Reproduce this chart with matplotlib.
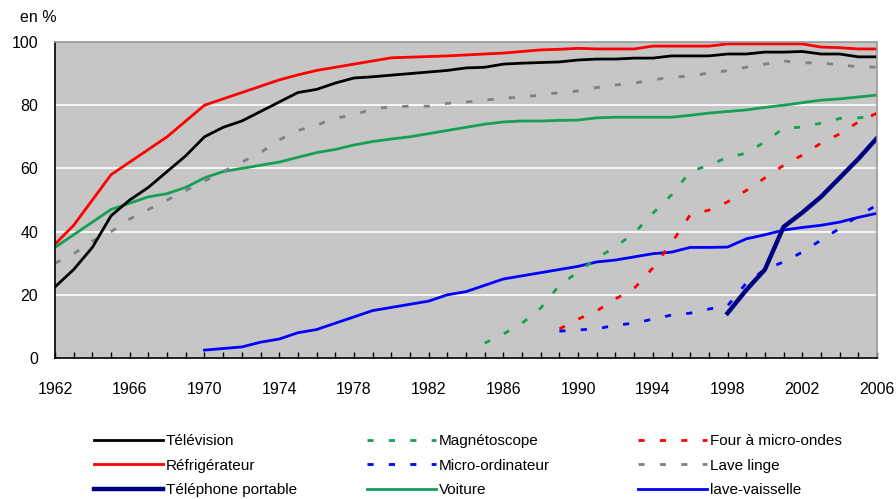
import numpy as np
import matplotlib.pyplot as plt
from matplotlib.lines import Line2D

plt.rcParams['font.family'] = ['Liberation Sans', 'DejaVu Sans']

# Years for each series
years_full = list(range(1962, 2007))
tele = [22.5, 28, 35, 45, 50, 54, 59, 64, 70, 73, 75, 78, 81, 84, 85, 87, 88.6, 89, 89.5,
        90, 90.5, 91, 91.8, 92, 93, 93.3, 93.5, 93.7, 94.3, 94.6, 94.6, 94.9, 94.9, 95.6, 95.6,
        95.6, 96.2, 96.2, 96.8, 96.8, 97, 96.2, 96.2, 95.3, 95.3]
refrig = [36, 42, 50, 58, 62, 66, 70, 75, 80, 82, 84, 86, 88, 89.6, 91, 92, 93, 94, 95,
          95.2, 95.4, 95.6, 95.9, 96.2, 96.5, 97, 97.5, 97.7, 98, 97.8, 97.8, 97.8, 98.7, 98.7,
          98.7, 98.7, 99.4, 99.4, 99.4, 99.4, 99.4, 98.4, 98.2, 97.8, 97.8]
lave_linge = [30, 33, 37, 40, 44, 47, 50, 53, 56, 59, 62, 65, 69, 72, 73.7, 75.9, 76.9, 78.8,
              79.5, 79.7, 79.7, 80.6, 81, 81.6, 82.2, 82.6, 83.2, 84, 84.5, 85.6, 86.4, 87, 88,
              88.9, 89.2, 90.2, 90.9, 92, 93, 94, 93.4, 93.4, 92.7, 92.2, 92]
voiture = [35, 39, 43, 47, 49, 51, 52, 54, 57, 59, 60, 61, 62, 63.5, 65, 66, 67.4, 68.5, 69.3,
           70, 71, 72, 73, 74, 74.7, 75, 75, 75.2, 75.3, 76, 76.2, 76.2, 76.2, 76.2, 76.8, 77.5,
           78, 78.5, 79.3, 80, 80.8, 81.6, 82, 82.6, 83.2]

years_lv = list(range(1970, 2007))
lave_vaisselle = [2.5, 3, 3.5, 5, 6, 8, 9, 11, 13, 15, 16, 17, 18, 20, 21, 23, 25, 26, 27,
                  28, 29, 30.4, 31, 32, 33, 33.5, 35, 35, 35.1, 37.7, 39, 40.5, 41.3, 42, 43,
                  44.5, 45.8]

years_mag = list(range(1985, 2007))
magneto = [4.7, 7.6, 11, 15.8, 23, 27.2, 31.6, 35.2, 39.5, 45.8, 51.6, 59, 61, 63.5, 64.8,
           68.4, 72.7, 73.1, 74.3, 75.8, 76, 76.5]

years_89 = list(range(1989, 2007))
four = [9.2, 12.3, 14.9, 18.7, 22, 28.5, 36.4, 45.3, 46.8, 49.4, 53, 57, 61, 64.2, 68, 70.9,
        74.7, 77.5]
micro = [8.5, 8.9, 9.2, 10.4, 11, 12.3, 13.6, 14.2, 15.5, 16.5, 23.7, 28, 30.4, 33.5, 37.3,
         41, 45, 48.4]

years_tel = list(range(1998, 2007))
telephone = [14.2, 21.5, 28, 41.5, 46, 51, 57, 63, 69.6]

green = '#17A055'
navy = '#000080'
gray_dash = '#7F7F8F'
dot = (0, (2.2, 5.5))

fig = plt.figure(figsize=(8.96, 4.99), dpi=100)
ax = fig.add_axes([55 / 896, 1 - 358 / 499, (877 - 55) / 896, (358 - 42) / 499])
ax.set_facecolor('#C6C6C6')

ax.plot(years_full, voiture, color=green, lw=2, label='Voiture')
ax.plot(years_full, lave_linge, color=gray_dash, lw=2, linestyle=dot, label='Lave linge')
ax.plot(years_lv, lave_vaisselle, color='#0000FF', lw=2, label='lave-vaisselle')
ax.plot(years_mag, magneto, color=green, lw=2, linestyle=dot, label='Magnétoscope')
ax.plot(years_89, four, color='#FF0000', lw=2, linestyle=dot, label='Four à micro-ondes')
ax.plot(years_89, micro, color='#0000FF', lw=2, linestyle=dot, label='Micro-ordinateur')
ax.plot(years_full, tele, color='black', lw=2, label='Télévision')
ax.plot(years_full, refrig, color='#FF0000', lw=2, label='Réfrigérateur')
ax.plot(years_tel, telephone, color=navy, lw=3.2, label='Téléphone portable')

ax.set_xlim(1962, 2006)
ax.set_ylim(0, 100)
ax.set_yticks(range(0, 101, 20))
ax.set_xticks(range(1962, 2007, 4))
ax.set_xticks(range(1962, 2007), minor=True)
for y in range(20, 100, 20):
    ax.axhline(y, color='white', lw=1.2, zorder=0.5)

ax.tick_params(axis='x', which='both', direction='in', length=4, width=1, pad=17,
               labelsize=11.5, colors='black')
ax.tick_params(axis='y', length=0, pad=12, labelsize=11.5)
for s in ['left', 'bottom']:
    ax.spines[s].set_color('black')
    ax.spines[s].set_linewidth(1.2)
for s in ['top', 'right']:
    ax.spines[s].set_color('#999999')
    ax.spines[s].set_linewidth(1.2)

fig.text(20 / 896, 1 - 18 / 499, 'en %', fontsize=11.5, va='center', ha='left')

# Legend in three columns
h = {l.get_label(): l for l in ax.get_lines()}
cols = [(['Télévision', 'Réfrigérateur', 'Téléphone portable'], 94),
        (['Magnétoscope', 'Micro-ordinateur', 'Voiture'], 367),
        (['Four à micro-ondes', 'Lave linge', 'lave-vaisselle'], 638)]
for names, x0 in cols:
    leg = fig.legend([h[n] for n in names], names, loc='upper left',
                     bbox_to_anchor=(x0 / 896, 1 - 434 / 499), frameon=False,
                     fontsize=11, handlelength=4.5, handletextpad=0.2,
                     labelspacing=0.7, borderaxespad=0, borderpad=0)

fig.savefig('out.png', dpi=100)
